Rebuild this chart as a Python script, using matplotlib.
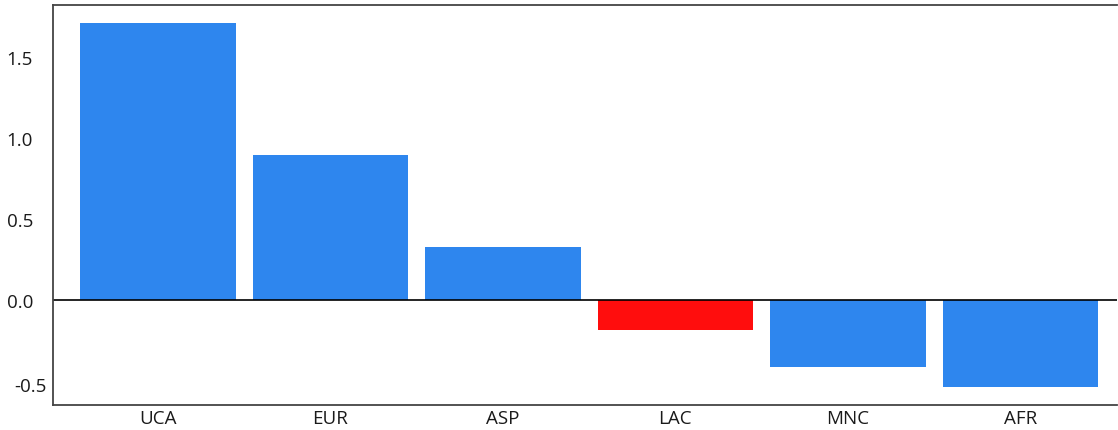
import matplotlib
matplotlib.use('Agg')
import matplotlib.pyplot as plt
from matplotlib.transforms import ScaledTranslation

regions = ['UCA', 'EUR', 'ASP', 'LAC', 'MNC', 'AFR']
values = [1.71, 0.895, 0.327, -0.185, -0.414, -0.537]
colors = ['#2E86EE', '#2E86EE', '#2E86EE', '#FF0D0D', '#2E86EE', '#2E86EE']
yticks = [-0.5, 0.0, 0.5, 1.0, 1.5]
ytick_labels = ['-0.5', '0.0', '0.5', '1.0', '1.5']

plt.rcParams['font.family'] = ['Open Sans', 'DejaVu Sans']

fig = plt.figure(figsize=(11.18, 4.31), dpi=100)
ax = fig.add_axes([53 / 1118, 25.5 / 431, 1064 / 1118, 400 / 431])

x = range(len(regions))
ax.bar(x, values, width=0.9, color=colors, edgecolor='none')
ax.axhline(0, color='black', linewidth=1.2)

ax.set_xlim(-0.608, 5.56)
ax.set_ylim(-0.648, 1.822)
ax.set_yticks(yticks)
ax.set_yticklabels(ytick_labels)
ax.set_xticks(list(x))
ax.set_xticklabels(regions)
ax.tick_params(length=0, labelsize=13.5, colors='#1a1a1a')
ax.tick_params(axis='x', pad=3)
ax.tick_params(axis='y', pad=14.4)

# the lowest label sits closer to the axis in the original
lbl = ax.yaxis.get_major_ticks()[0].label1
lbl.set_transform(lbl.get_transform() + ScaledTranslation(0.14, -0.03, fig.dpi_scale_trans))

for side in ['top', 'left', 'bottom']:
    ax.spines[side].set_color('#444444')
    ax.spines[side].set_linewidth(1.3)
ax.spines['right'].set_visible(False)

fig.savefig('out.png', dpi=100)
plt.close(fig)
